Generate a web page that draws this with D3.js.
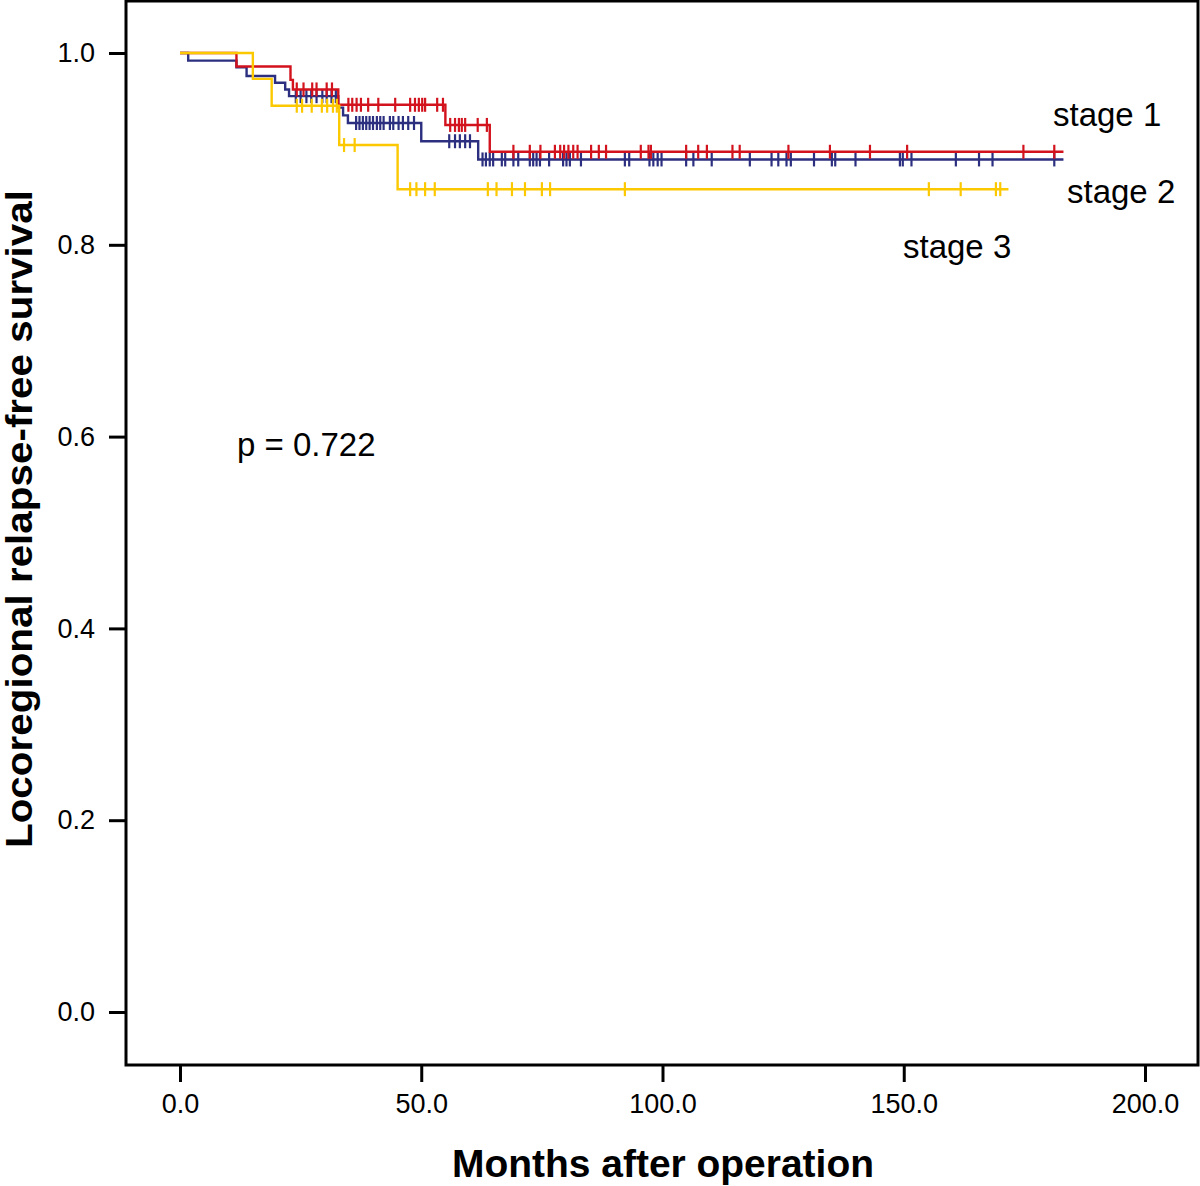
<!DOCTYPE html>
<html>
<head>
<meta charset="utf-8">
<script src="https://cdn.jsdelivr.net/npm/d3@7"></script>
<style>
  body { margin: 0; background: #fff; }
  svg { display: block; font-family: "Liberation Sans", Arial, sans-serif; }
</style>
</head>
<body>
<svg id="chart" width="1200" height="1186"></svg>
<script>
const xTicks = [0, 50, 100, 150, 200];
const yTicks = [0, 0.2, 0.4, 0.6, 0.8, 1.0];

// stage 1 (red): [months, survival] at each event
const stage1Steps = [[0, 1.0], [11.7, 0.986], [22.9, 0.972], [23.4, 0.962], [32.8, 0.946], [55.0, 0.925], [64.2, 0.897]];
const stage1End = 183.1;
const stage1Censored = [24.2, 25.6, 27.4, 28.3, 30.4, 31.5,
  34.9, 35.7, 36.6, 37.5, 39.0, 41.1, 44.6, 47.7, 48.7, 49.5, 50.2, 50.8, 53.3, 54.5,
  56.0, 57.0, 57.8, 58.4, 59.1, 61.7, 63.6,
  69.1, 72.5, 74.7, 77.7, 78.8, 79.6, 80.5, 81.5, 82.4, 85.2, 86.8, 88.3, 95.5, 97.1, 97.6,
  104.9, 107.4, 109.2, 114.5, 116.0, 126.1, 134.7, 143.0, 150.7, 174.8, 181.2];

// stage 2 (navy)
const stage2Steps = [[0, 1.0], [1.7, 0.992], [11.7, 0.985], [13.8, 0.976], [19.7, 0.969], [21.8, 0.962], [22.6, 0.955],
  [32.8, 0.943], [33.8, 0.935], [34.8, 0.927], [50.0, 0.908], [61.8, 0.889]];
const stage2End = 183.1;
const stage2Censored = [24.0, 25.0, 26.2, 27.2, 28.3, 29.5, 30.4, 31.4, 32.3,
  36.5, 37.2, 37.9, 38.6, 39.3, 40.0, 40.8, 41.5, 42.2, 43.5, 44.2, 45.3, 46.2, 47.3, 48.5,
  55.8, 57.0, 58.0, 59.1, 60.1,
  62.7, 63.4, 64.2, 64.9, 66.7, 67.4, 69.1, 70.1, 72.5, 73.2, 73.9, 74.6, 76.5, 79.4, 80.1, 80.8, 83.1,
  92.2, 93.1, 97.3, 98.1, 99.0, 99.8, 104.9, 106.4, 110.2, 118.1, 122.6, 124.0, 125.7, 126.6, 131.4,
  135.1, 135.8, 140.0, 149.2, 149.8, 151.6, 160.8, 165.6, 168.4, 181.2];

// stage 3 (yellow)
const stage3Steps = [[0, 1.0], [15.1, 0.973], [19.0, 0.945], [33.0, 0.904], [45.1, 0.858]];
const stage3End = 171.7;
const stage3Censored = [24.2, 25.3, 27.3, 29.4, 30.5, 31.7, 32.5, 34.0, 36.2,
  47.7, 49.0, 50.8, 52.8, 63.8, 65.6, 68.8, 71.5, 75.0, 76.7, 92.2, 155.2, 161.8, 169.1, 170.0];

const stageLabels = ["stage 1", "stage 2", "stage 3"];
const pText = "p = 0.722";

const series = [
  { name: stageLabels[1], steps: stage2Steps, end: stage2End, censored: stage2Censored, color: "#2c2f7f" },
  { name: stageLabels[0], steps: stage1Steps, end: stage1End, censored: stage1Censored, color: "#d2121c" },
  { name: stageLabels[2], steps: stage3Steps, end: stage3End, censored: stage3Censored, color: "#fcc800" }
];

const frame = { left: 126, right: 1198, top: 1, bottom: 1065 };

const x = d3.scaleLinear().domain([0, 200]).range([180, 1145]);
const y = d3.scaleLinear().domain([0, 1]).range([1012, 53]);

const svg = d3.select("#chart");

// plot frame
svg.append("rect")
  .attr("x", frame.left)
  .attr("y", frame.top)
  .attr("width", frame.right - frame.left)
  .attr("height", frame.bottom - frame.top)
  .attr("fill", "none")
  .attr("stroke", "#000")
  .attr("stroke-width", 3);

// axes
const yAxis = svg.append("g")
  .attr("transform", `translate(${frame.left},0)`)
  .call(d3.axisLeft(y).tickValues(yTicks).tickFormat(d3.format(".1f")).tickSize(17).tickPadding(14));

const xAxis = svg.append("g")
  .attr("transform", `translate(0,${frame.bottom})`)
  .call(d3.axisBottom(x).tickValues(xTicks).tickFormat(d3.format(".1f")).tickSize(17).tickPadding(12));

[xAxis, yAxis].forEach((g) => {
  g.select(".domain").remove();
  g.selectAll("line").attr("stroke", "#000").attr("stroke-width", 3);
  g.selectAll("text")
    .attr("fill", "#000")
    .style("font-size", "27px")
    .style("font-family", "'Liberation Sans', Arial, sans-serif");
});

// survival at a given time (last step at or before it)
function survivalAt(steps, t) {
  let s = steps[0][1];
  steps.forEach((d) => {
    if (d[0] <= t) s = d[1];
  });
  return s;
}

const line = d3.line()
  .x((d) => x(d[0]))
  .y((d) => y(d[1]))
  .curve(d3.curveStepAfter);

series.forEach((s) => {
  const pts = s.steps.concat([[s.end, s.steps[s.steps.length - 1][1]]]);
  const g = svg.append("g");

  g.append("path")
    .datum(pts)
    .attr("d", line)
    .attr("fill", "none")
    .attr("stroke", s.color)
    .attr("stroke-width", 2.4);

  g.selectAll(".cens")
    .data(s.censored)
    .enter()
    .append("line")
    .attr("x1", (d) => x(d))
    .attr("x2", (d) => x(d))
    .attr("y1", (d) => y(survivalAt(s.steps, d)) - 7)
    .attr("y2", (d) => y(survivalAt(s.steps, d)) + 7)
    .attr("stroke", s.color)
    .attr("stroke-width", 2.2);
});

// annotations
const labelStyle = (t) => t.attr("fill", "#000").style("font-size", "33px");

svg.append("text").text(stageLabels[0]).attr("x", 1053).attr("y", 126).call(labelStyle);
svg.append("text").text(stageLabels[1]).attr("x", 1067).attr("y", 203).call(labelStyle);
svg.append("text").text(stageLabels[2]).attr("x", 903).attr("y", 258).call(labelStyle);
svg.append("text").text(pText).attr("x", 237).attr("y", 456).call(labelStyle);

// axis titles
svg.append("text")
  .text("Months after operation")
  .attr("x", 663)
  .attr("y", 1177)
  .attr("text-anchor", "middle")
  .attr("textLength", 422)
  .attr("lengthAdjust", "spacingAndGlyphs")
  .style("font-size", "38px")
  .style("font-weight", "bold");

svg.append("text")
  .text("Locoregional relapse-free survival")
  .attr("transform", "translate(32,519) rotate(-90)")
  .attr("text-anchor", "middle")
  .attr("textLength", 658)
  .attr("lengthAdjust", "spacingAndGlyphs")
  .style("font-size", "37px")
  .style("font-weight", "bold");
</script>
</body>
</html>
